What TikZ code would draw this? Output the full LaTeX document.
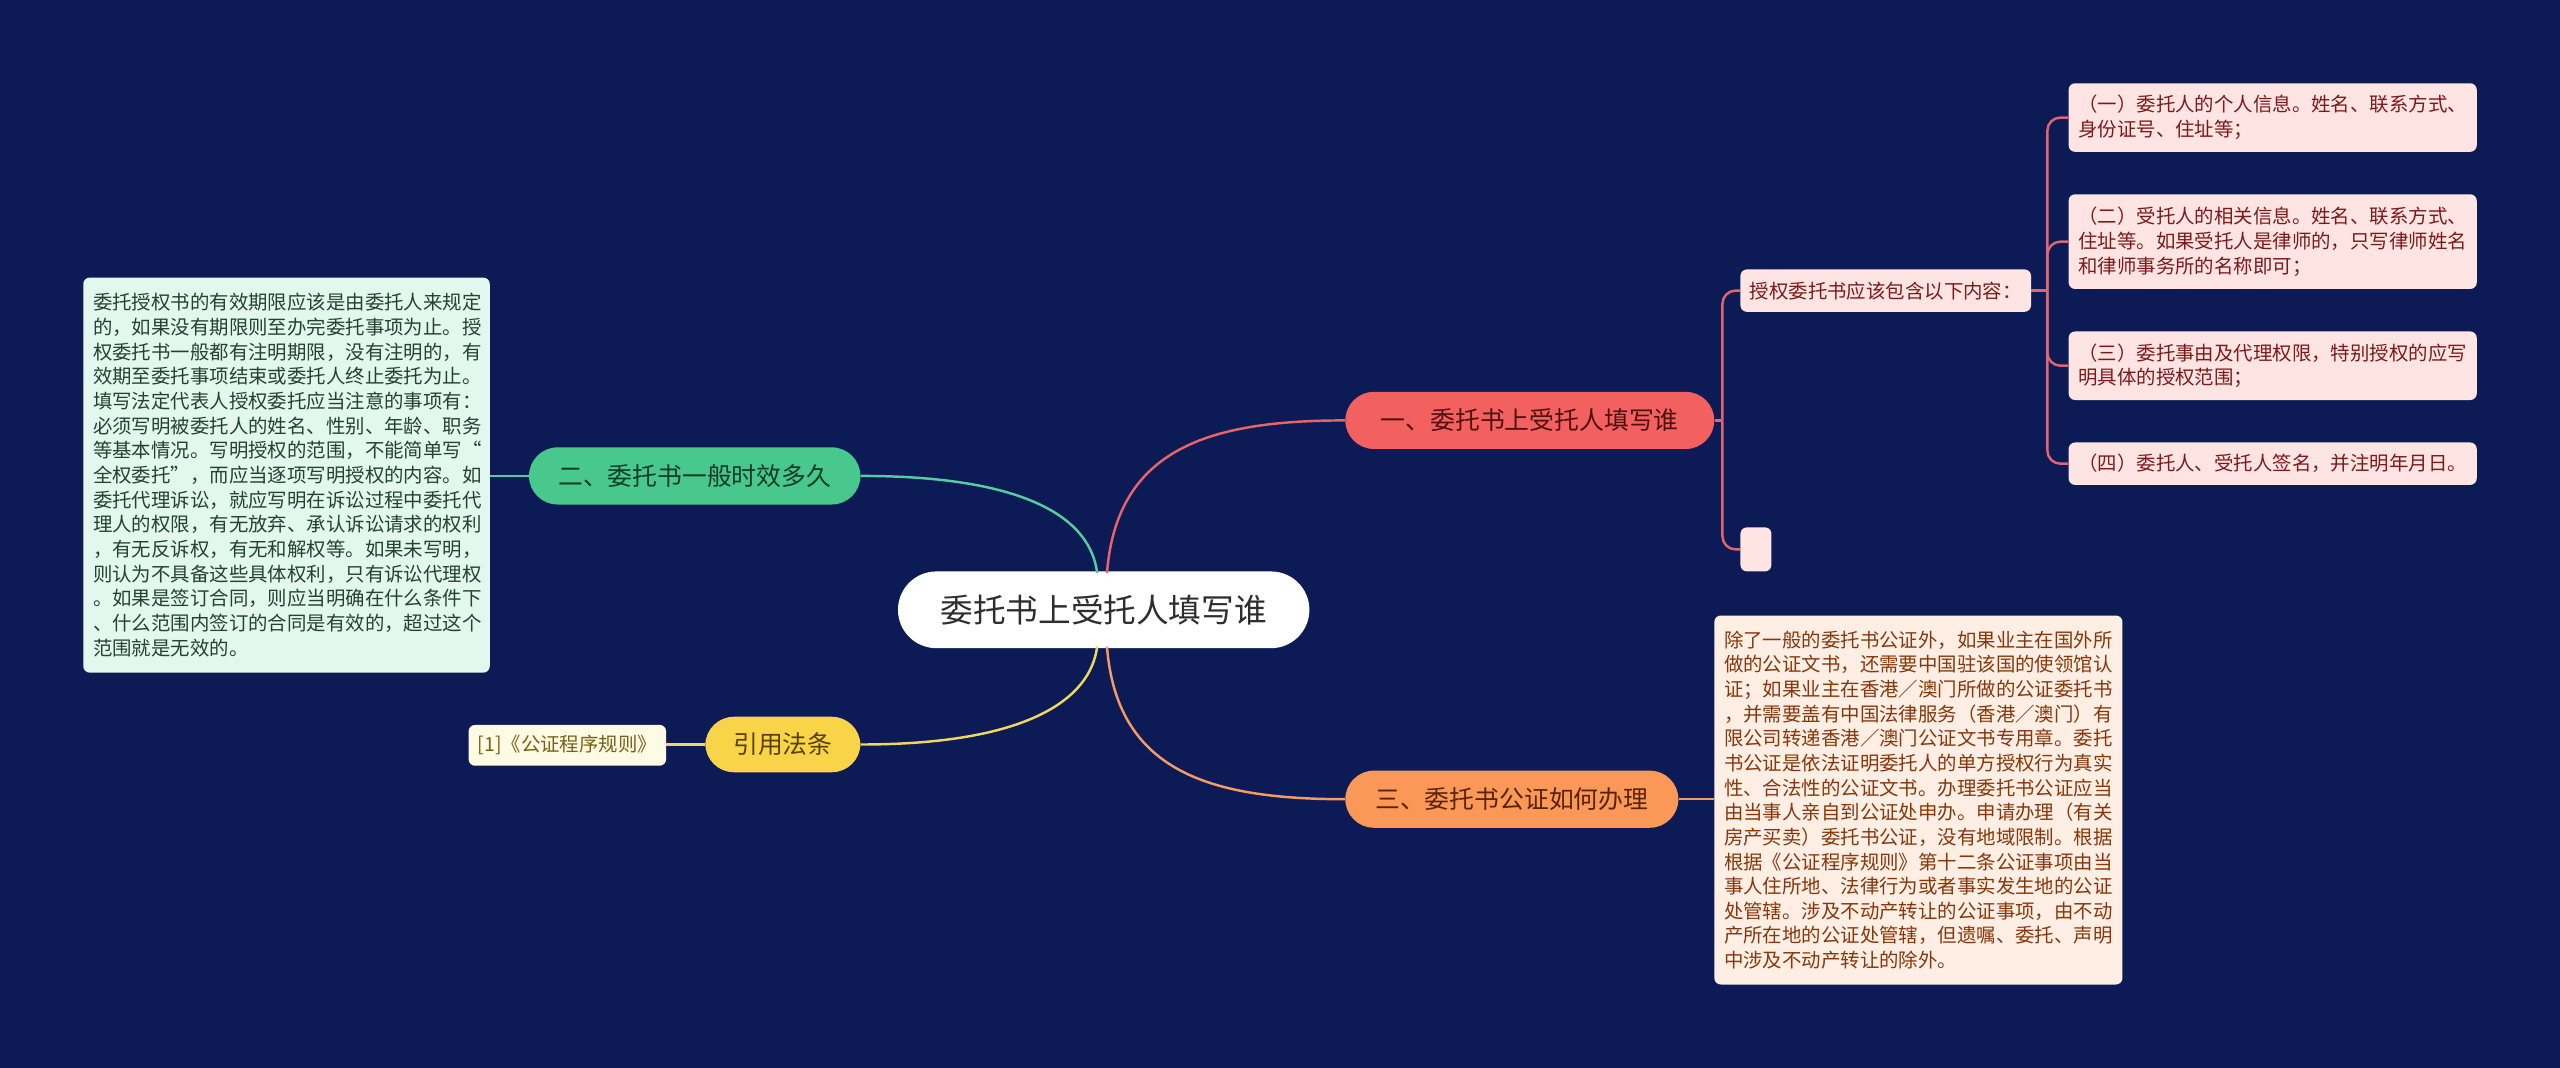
\documentclass[tikz,border=0pt]{standalone}
\usepackage{fontspec}
\setmainfont{Noto Sans CJK SC}
\definecolor{bg}{RGB}{12,27,85}
\definecolor{redfill}{RGB}{242,96,96}
\definecolor{redtext}{RGB}{80,15,15}
\definecolor{orangefill}{RGB}{250,152,88}
\definecolor{orangetext}{RGB}{90,35,5}
\definecolor{greenfill}{RGB}{72,200,140}
\definecolor{greentext}{RGB}{15,60,40}
\definecolor{yellowfill}{RGB}{250,212,72}
\definecolor{yellowtext}{RGB}{85,65,0}
\definecolor{mintfill}{RGB}{226,248,238}
\definecolor{minttext}{RGB}{35,65,55}
\definecolor{citefill}{RGB}{255,250,228}
\definecolor{citetext}{RGB}{120,95,20}
\definecolor{pinkfill}{RGB}{255,228,228}
\definecolor{pinktext}{RGB}{125,25,25}
\definecolor{peachfill}{RGB}{255,238,228}
\definecolor{peachtext}{RGB}{135,55,10}
\definecolor{redline}{RGB}{232,100,105}
\definecolor{greenline}{RGB}{85,205,160}
\definecolor{yellowline}{RGB}{240,215,95}
\definecolor{orangeline}{RGB}{245,155,100}
\definecolor{pinkline}{RGB}{225,100,110}
\begin{document}
\begin{tikzpicture}[x=1pt,y=-1pt,
  pill/.style={rounded corners=17.5pt, inner sep=0pt, minimum height=35pt,
    font=\fontsize{15.2}{18}\selectfont},
  leaf/.style={rounded corners=4pt, inner sep=0pt, align=left,
    font=\fontsize{11.9}{15.1}\selectfont},
  conn/.style={line width=1.5pt}]
\useasboundingbox (0,0) rectangle (1568,654);
\fill[bg] (0,0) rectangle (1568,654);

% central node
\node[fill=white, rounded corners=23.5pt, inner sep=0pt, minimum width=252pt,
  minimum height=47pt, text=black!82, font=\fontsize{20}{24}\selectfont]
  (c) at (676,373.5) {委托书上受托人填写谁};

% main branches
\node[pill, fill=redfill, text=redtext, minimum width=226pt] (b1) at (937,257.5) {一、委托书上受托人填写谁};
\node[pill, fill=greenfill, text=greentext, minimum width=203pt] (b2) at (425.5,291.5) {二、委托书一般时效多久};
\node[pill, fill=orangefill, text=orangetext, minimum width=204pt] (b3) at (926,489.5) {三、委托书公证如何办理};
\node[pill, fill=yellowfill, text=yellowtext, minimum width=95pt, minimum height=34pt] (b4) at (479.5,456) {引用法条};

% left text box
\node[leaf, fill=mintfill, text=minttext, minimum width=249pt, minimum height=242pt, text width=237pt]
  (l1) at (175.5,291) {委托授权书的有效期限应该是由委托人来规定\\
的，如果没有期限则至办完委托事项为止。授\\
权委托书一般都有注明期限，没有注明的，有\\
效期至委托事项结束或委托人终止委托为止。\\
填写法定代表人授权委托应当注意的事项有：\\
必须写明被委托人的姓名、性别、年龄、职务\\
等基本情况。写明授权的范围，不能简单写“\\
全权委托”，而应当逐项写明授权的内容。如\\
委托代理诉讼，就应写明在诉讼过程中委托代\\
理人的权限，有无放弃、承认诉讼请求的权利\\
，有无反诉权，有无和解权等。如果未写明，\\
则认为不具备这些具体权利，只有诉讼代理权\\
。如果是签订合同，则应当明确在什么条件下\\
、什么范围内签订的合同是有效的，超过这个\\
范围就是无效的。};

% citation
\node[leaf, fill=citefill, text=citetext, minimum width=121pt, minimum height=25pt, align=center]
  (cite) at (347.5,456.5) {[1]《公证程序规则》};

% right top
\node[leaf, fill=pinkfill, text=pinktext, minimum width=178pt, minimum height=26pt, align=center]
  (s1) at (1155,178) {授权委托书应该包含以下内容：};
\node[leaf, fill=pinkfill, minimum width=19pt, minimum height=27pt] (s2) at (1075.5,336.5) {};

\node[leaf, fill=pinkfill, text=pinktext, minimum width=250pt, minimum height=42pt, text width=238pt]
  (t1) at (1392,72) {（一）委托人的个人信息。姓名、联系方式、\\身份证号、住址等；};
\node[leaf, fill=pinkfill, text=pinktext, minimum width=250pt, minimum height=58pt, text width=238pt]
  (t2) at (1392,148) {（二）受托人的相关信息。姓名、联系方式、\\住址等。如果受托人是律师的，只写律师姓名\\和律师事务所的名称即可；};
\node[leaf, fill=pinkfill, text=pinktext, minimum width=250pt, minimum height=42pt, text width=238pt]
  (t3) at (1392,224) {（三）委托事由及代理权限，特别授权的应写\\明具体的授权范围；};
\node[leaf, fill=pinkfill, text=pinktext, minimum width=250pt, minimum height=26pt, text width=238pt]
  (t4) at (1392,284) {（四）委托人、受托人签名，并注明年月日。};

% right bottom
\node[leaf, fill=peachfill, text=peachtext, minimum width=250pt, minimum height=226pt, text width=238pt]
  (r1) at (1175,490) {除了一般的委托书公证外，如果业主在国外所\\
做的公证文书，还需要中国驻该国的使领馆认\\
证；如果业主在香港／澳门所做的公证委托书\\
，并需要盖有中国法律服务（香港／澳门）有\\
限公司转递香港／澳门公证文书专用章。委托\\
书公证是依法证明委托人的单方授权行为真实\\
性、合法性的公证文书。办理委托书公证应当\\
由当事人亲自到公证处申办。申请办理（有关\\
房产买卖）委托书公证，没有地域限制。根据\\
根据《公证程序规则》第十二条公证事项由当\\
事人住所地、法律行为或者事实发生地的公证\\
处管辖。涉及不动产转让的公证事项，由不动\\
产所在地的公证处管辖，但遗嘱、委托、声明\\
中涉及不动产转让的除外。};

% connectors from centre
\draw[conn, redline] (678,351) .. controls (684,275) and (740,257.5) .. (b1.west);
\draw[conn, greenline] (b2.east) .. controls (630,291.5) and (668,318) .. (672,351);
\draw[conn, yellowline] (b4.east) .. controls (630,456) and (668,428) .. (672,396);
\draw[conn, orangeline] (678,396) .. controls (684,472) and (740,489.5) .. (b3.west);

% simple links
\draw[conn, greenline] (b2.west) -- (l1.east |- b2.west);
\draw[conn, yellowline] (b4.west) -- (cite.east |- b4.west);
\draw[conn, orangeline] (b3.east) -- (r1.west |- b3.east);

% right branch links
\coordinate (j1) at (1055,257.5);
\draw[conn, pinkline] (b1.east) -- (j1);
\draw[conn, pinkline, rounded corners=8pt] (j1) |- (s1.west);
\draw[conn, pinkline, rounded corners=8pt] (j1) |- (s2.west);
\coordinate (j2) at (1254,178);
\draw[conn, pinkline] (s1.east) -- (j2);
\draw[conn, pinkline, rounded corners=8pt] (j2) |- (t1.west);
\draw[conn, pinkline, rounded corners=8pt] (j2) |- (t2.west);
\draw[conn, pinkline, rounded corners=8pt] (j2) |- (t3.west);
\draw[conn, pinkline, rounded corners=8pt] (j2) |- (t4.west);
\end{tikzpicture}
\end{document}
